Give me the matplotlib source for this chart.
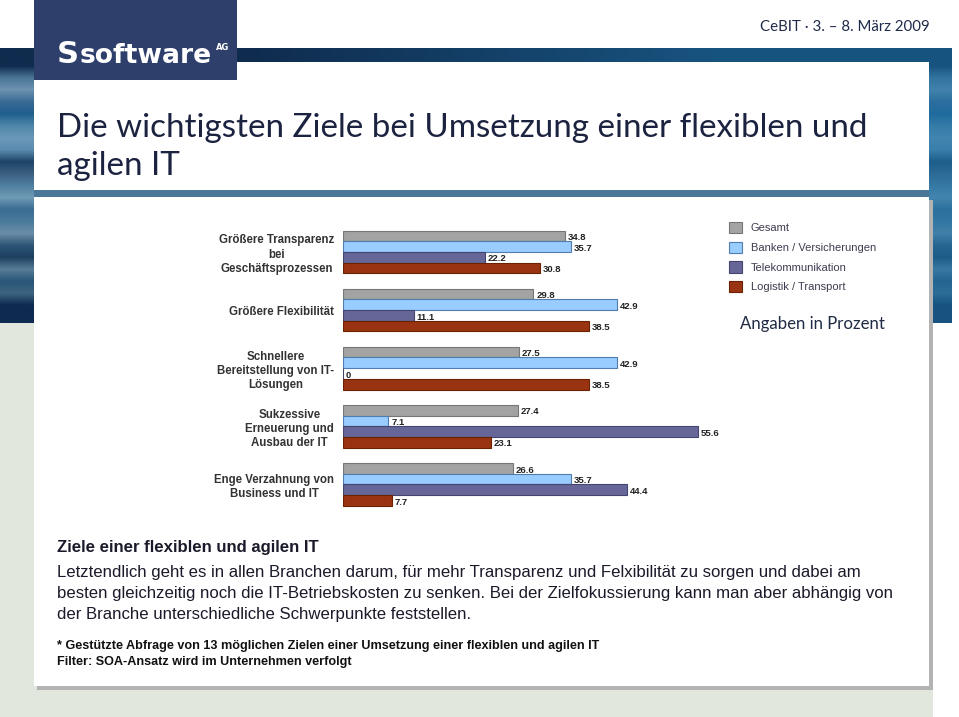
import matplotlib
matplotlib.use('Agg')
import matplotlib.pyplot as plt
from matplotlib import font_manager
from matplotlib.patches import Rectangle
from matplotlib.colors import to_rgb
import numpy as np

# --- data ---
categories = ["Größere Transparenz\nbei\nGeschäftsprozessen",
              "Größere Flexibilität",
              "Schnellere\nBereitstellung von IT-\nLösungen",
              "Sukzessive\nErneuerung und\nAusbau der IT",
              "Enge Verzahnung von\nBusiness und IT"]
series_names = ["Gesamt", "Banken / Versicherungen", "Telekommunikation", "Logistik / Transport"]
gesamt = [34.8, 29.8, 27.5, 27.4, 26.6]
banken = [35.7, 42.9, 42.9, 7.1, 35.7]
telekom = [22.2, 11.1, 0, 55.6, 44.4]
logistik = [30.8, 38.5, 38.5, 23.1, 7.7]

face = ['#a3a3a3', '#99ccff', '#666699', '#993311']
edge = ['#777777', '#4f7db0', '#45456f', '#6a2200']

names = {f.name for f in font_manager.fontManager.ttflist}
narrow = 'Liberation Sans Narrow' if 'Liberation Sans Narrow' in names else 'Liberation Sans'
sans = 'Liberation Sans'
slide = 'Lato' if 'Lato' in names else 'DejaVu Sans'

fig = plt.figure(figsize=(9.59, 7.17), dpi=100)
bg = fig.add_axes([0, 0, 1, 1])
bg.axis('off')


def box(x0, y0, x1, y1, color, z=1):
    bg.add_patch(Rectangle((x0, y0), x1 - x0, y1 - y0, facecolor=color,
                           edgecolor='none', zorder=z))


def fit(t, w):
    r = fig.canvas.get_renderer()
    t.set_fontsize(t.get_fontsize() * w / t.get_window_extent(r).width)
    return t.get_fontsize()


# slide background and blue stripes
box(0, 323, 933, 717, '#e2e7dd', 0)
stripes = ['#0f2b4d', '#0f2b4d', '#4a7595', '#6c93b0', '#3a6a95', '#1f5f8f', '#4f86a8',
           '#6a98b8', '#5b8db0', '#1d4568', '#3b6080', '#4f7fa0', '#6f9ab5',
           '#3a6d92', '#4a7a9c', '#6b8ea8', '#2d5575', '#1d3f60', '#577d98',
           '#2a5577', '#3c6580', '#0e2a50', '#0e2a50']
left = np.array([to_rgb(c) for c in stripes])
right = 0.45 * left + 0.55 * np.array(to_rgb('#1f74a8'))
img = np.stack([left, right], axis=1)
bg.imshow(img, extent=(0, 952, 323, 48), aspect='auto', interpolation='bilinear', zorder=1)

box(37, 200, 933, 690, '#b3b3b3', 2)
box(34, 197, 929, 686, 'white', 3)
box(34, 62, 929, 190, 'white', 3)
box(34, 190, 929, 197, '#4b7899', 3)
box(34, 0, 237, 80, '#2f3f6c', 4)

bg.set_xlim(0, 959)
bg.set_ylim(717, 0)

# logo and header
bg.text(57, 63, "S", color='white', fontsize=22, fontweight='bold', family='DejaVu Sans', zorder=5)
t = bg.text(80, 63, "software", color='white', fontsize=22, fontweight='bold', family='DejaVu Sans', zorder=5)
fit(t, 132)
bg.text(216, 50, "AG", color='white', fontsize=6, fontweight='bold', family='DejaVu Sans', zorder=5)

t = bg.text(930, 31, "CeBIT · 3. – 8. März 2009", ha='right', color='#1f2a4a', fontsize=10, family=slide, zorder=5)
fit(t, 168)

t = bg.text(57, 137, "Die wichtigsten Ziele bei Umsetzung einer flexiblen und", color='#1c2340',
            fontsize=22, family=slide, zorder=5)
fs = fit(t, 807)
bg.text(57, 175, "agilen IT", color='#1c2340', fontsize=fs, family=slide, zorder=5)

t = bg.text(740, 329, "Angaben in Prozent", color='#1f2a44', fontsize=12, family=slide, zorder=5)
fit(t, 144)

# bottom text
t = bg.text(57, 552, "Ziele einer flexiblen und agilen IT", color='#1a1a2a', fontsize=12,
            fontweight='bold', family=narrow, zorder=5)
fit(t, 261)
body = ["Letztendlich geht es in allen Branchen darum, für mehr Transparenz und Felxibilität zu sorgen und dabei am",
        "besten gleichzeitig noch die IT-Betriebskosten zu senken. Bei der Zielfokussierung kann man aber abhängig von",
        "der Branche unterschiedliche Schwerpunkte feststellen."]
t = bg.text(57, 577, body[0], color='#1a1a2a', fontsize=11, family=narrow, zorder=5)
fs = fit(t, 800)
for i, line in enumerate(body[1:]):
    bg.text(57, 598 + 21 * i, line, color='#1a1a2a', fontsize=fs, family=narrow, zorder=5)
t = bg.text(57, 649, "* Gestützte Abfrage von 13 möglichen Zielen einer Umsetzung einer flexiblen und agilen IT",
            color='#111111', fontsize=9, fontweight='bold', family=narrow, zorder=5)
fs = fit(t, 540)
bg.text(57, 665, "Filter: SOA-Ansatz wird im Unternehmen verfolgt", color='#111111', fontsize=fs,
        fontweight='bold', family=narrow, zorder=5)

# --- bar chart ---
ax = fig.add_axes([343 / 959, 1 - 520 / 717, 400 / 959, 300 / 717], zorder=10)
ax.set_facecolor('none')
for s in ax.spines.values():
    s.set_visible(False)

y = np.arange(len(categories))
h = 0.184
handles = []
for j, vals in enumerate([gesamt, banken, telekom, logistik]):
    pos = y + (j - 1.5) * h
    bars = ax.barh(pos, vals, height=h, color=face[j], edgecolor=edge[j], linewidth=0.8,
                   label=series_names[j])
    handles.append(bars)
    for p, v in zip(pos, vals):
        ax.annotate(f'{v:g}', (v, p), xytext=(2, -1.2), textcoords='offset points',
                    va='center', ha='left', fontsize=6.8, fontweight='bold',
                    family=sans, color='#222222')

ax.set_xlim(0, 62.6)
ax.set_ylim(4.613, -0.55)
ax.set_xticks([])
ax.set_yticks(y)
ax.set_yticklabels(categories, fontsize=8.3, fontweight='bold', family=sans, color='#333333')
for lbl in ax.get_yticklabels():
    lbl.set_multialignment('center')
    lbl.set_linespacing(1.25)
ax.tick_params(axis='y', length=0, pad=6.5)

fig.legend(handles=handles, loc='upper left', bbox_to_anchor=(729 / 959, 1 - 222 / 717),
           frameon=False, borderpad=0, borderaxespad=0, handlelength=1.17, handleheight=1.17,
           labelspacing=0.75, handletextpad=0.8, prop={'family': sans, 'size': 8},
           labelcolor='#3c3c50')

fig.savefig('out.png', dpi=100)
